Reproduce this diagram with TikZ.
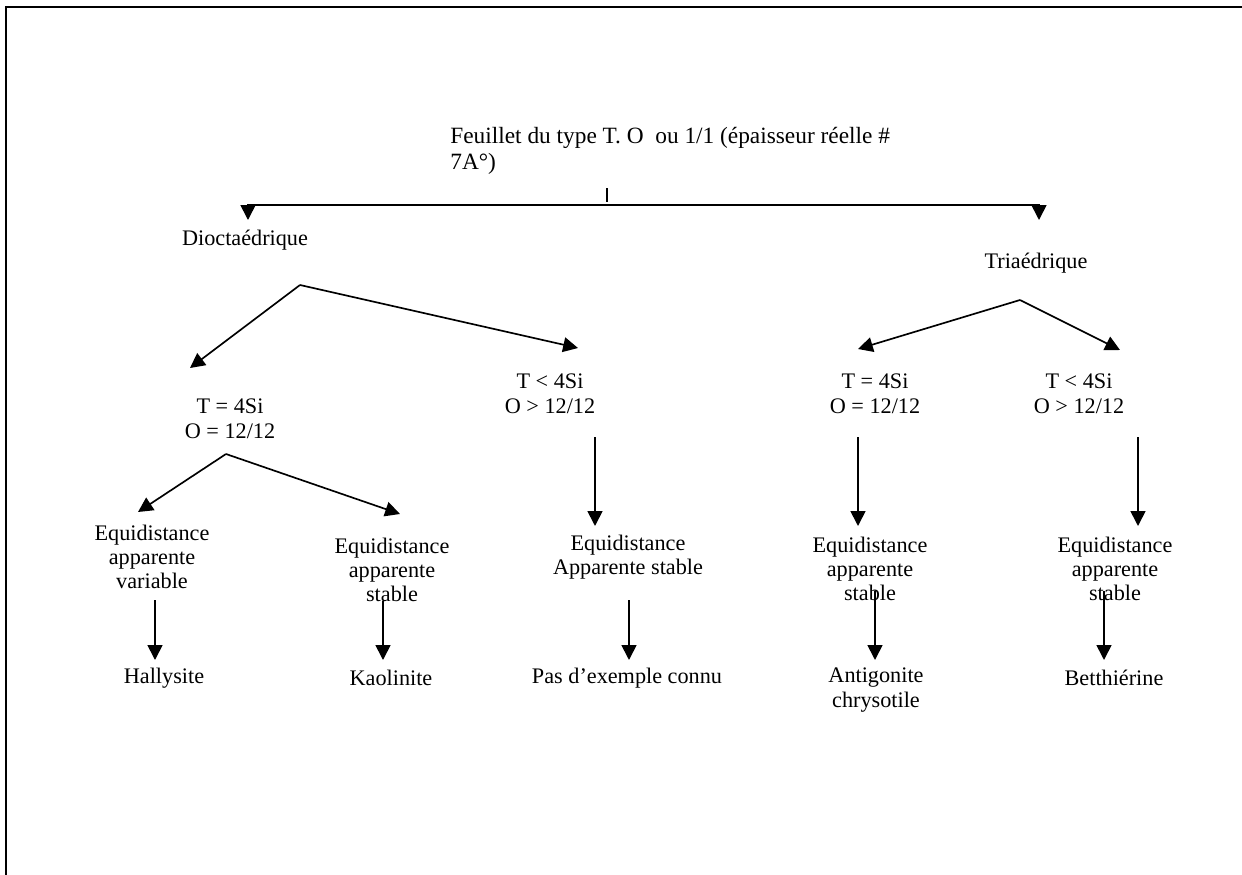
\documentclass[tikz,border=0pt]{standalone}
\usepackage{fontspec}
\setmainfont{Liberation Serif}
\usetikzlibrary{arrows.meta}
\begin{document}
\begin{tikzpicture}[x=0.54pt,y=-0.54pt,
  lbl/.style={inner sep=0pt,align=center,font=\fontsize{12}{13.5}\selectfont},
  ttl/.style={inner sep=0pt,align=left,font=\fontsize{12.6}{14}\selectfont},
  eq/.style={inner sep=0pt,align=center,font=\fontsize{12}{12.8}\selectfont},
  conn/.style={line width=0.9pt},
  arr/.style={conn,-{Triangle[length=8pt,width=8pt]}},
  frame/.style={line width=1.3pt}]
\useasboundingbox (0,0) rectangle (1242,875);
% frame
\coordinate (fBL) at (6,875);
\coordinate (fTL) at (6,7);
\coordinate (fTR) at (1242,7);
\draw[frame] (fBL) -- (fTL) -- (fTR);
% title
\node[ttl,anchor=west] (title) at (450,151) {Feuillet du type T. O\ \ ou 1/1 (épaisseur réelle \#\\7A°)};
\coordinate (tickA) at (607,188);
\coordinate (tickB) at (607,202);
\draw[conn] (tickA) -- (tickB);
\coordinate (hmid) at (607,205);
\coordinate (dtip) at (248,220);
\coordinate (ttip) at (1039,220);
\draw[arr] (hmid) -| (dtip);
\draw[arr] (hmid) -| (ttip);
% level 1
\node[lbl] (dio) at (245,240) {Dioctaédrique};
\node[lbl] (tri) at (1036,263) {Triaédrique};
% level 2
\node[lbl] (c1) at (230,419) {T = 4Si\\O = 12/12};
\node[lbl] (c2) at (550,394) {T < 4Si\\O > 12/12};
\node[lbl] (c3) at (875,394) {T = 4Si\\O = 12/12};
\node[lbl] (c4) at (1079,394) {T < 4Si\\O > 12/12};
\coordinate (dapex) at (300,285);
\coordinate (c1tip) at (190,368);
\coordinate (c2tip) at (578,348);
\draw[arr] (dapex) -- (c1tip);
\draw[arr] (dapex) -- (c2tip);
\coordinate (tapex) at (1020,300);
\coordinate (c3tip) at (858,349);
\coordinate (c4tip) at (1120,350);
\draw[arr] (tapex) -- (c3tip);
\draw[arr] (tapex) -- (c4tip);
% level 3
\node[eq] (e1) at (152,557) {Equidistance\\apparente\\variable};
\node[eq] (e2) at (392,570) {Equidistance\\apparente\\stable};
\node[eq] (e3) at (628,557) {Equidistance\\Apparente stable};
\node[eq] (e4) at (870,569) {Equidistance\\apparente\\stable};
\node[eq] (e5) at (1115,569) {Equidistance\\apparente\\stable};
\coordinate (lapex) at (226,454);
\coordinate (e1tip) at (138,512);
\coordinate (e2tip) at (400,514);
\draw[arr] (lapex) -- (e1tip);
\draw[arr] (lapex) -- (e2tip);
\coordinate (c2s) at (595,437);
\coordinate (e3tip) at (595,526);
\draw[arr] (c2s) -- (e3tip);
\coordinate (c3s) at (858,437);
\coordinate (e4tip) at (858,526);
\draw[arr] (c3s) -- (e4tip);
\coordinate (c4s) at (1138,437);
\coordinate (e5tip) at (1138,526);
\draw[arr] (c4s) -- (e5tip);
% level 4
\node[lbl] (m1) at (164,678) {Hallysite};
\node[lbl] (m2) at (391,678) {Kaolinite};
\node[lbl] (m3) at (627,678) {Pas d’exemple connu};
\node[lbl] (m4) at (876,690.5) {Antigonite\\chrysotile};
\node[lbl] (m5) at (1114,678) {Betthiérine};
\coordinate (e1s) at (155,600);
\coordinate (m1tip) at (155,660);
\draw[arr] (e1s) -- (m1tip);
\coordinate (e2s) at (383,601);
\coordinate (m2tip) at (383,660);
\draw[arr] (e2s) -- (m2tip);
\coordinate (e3s) at (629,600);
\coordinate (m3tip) at (629,660);
\draw[arr] (e3s) -- (m3tip);
\coordinate (e4s) at (875,591);
\coordinate (m4tip) at (875,660);
\draw[arr] (e4s) -- (m4tip);
\coordinate (e5s) at (1104,591);
\coordinate (m5tip) at (1104,660);
\draw[arr] (e5s) -- (m5tip);
\end{tikzpicture}
\end{document}
